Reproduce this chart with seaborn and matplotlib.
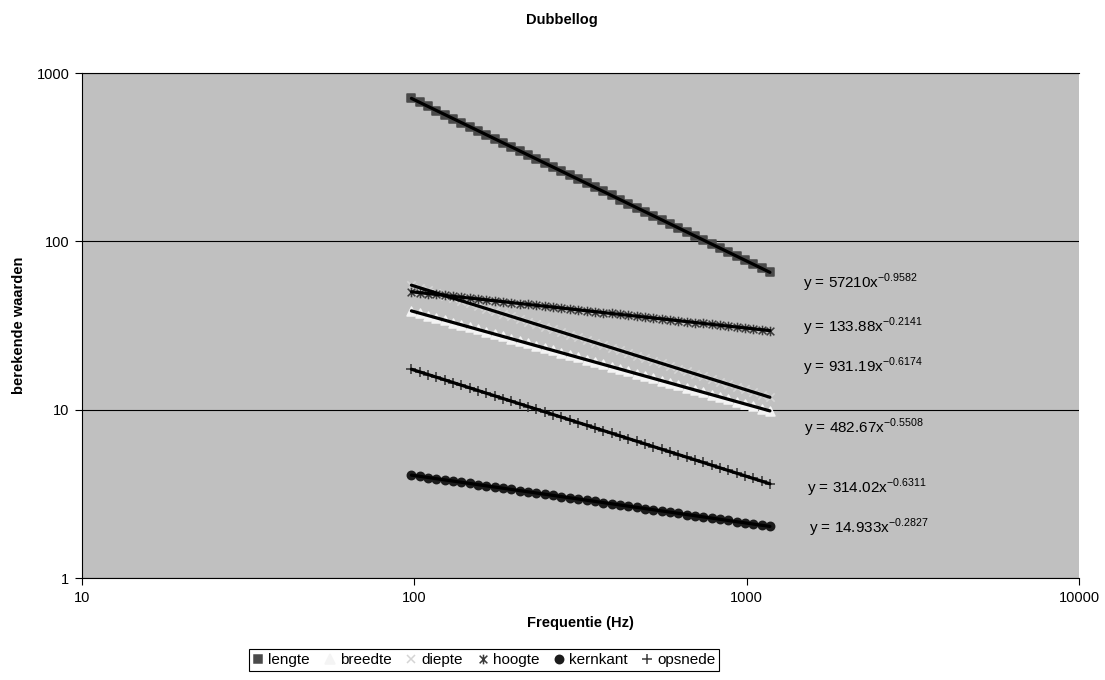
import numpy as np
import matplotlib
matplotlib.use("Agg")
import matplotlib.pyplot as plt
import seaborn as sns
from matplotlib.path import Path
from matplotlib.lines import Line2D

# -------------------------
# Data
# -------------------------
freq = [98.00, 103.83, 110.00, 116.54, 123.47, 130.81, 138.59, 146.83, 155.56, 164.81, 174.61, 185.00,
        196.00, 207.65, 220.00, 233.08, 246.94, 261.63, 277.18, 293.66, 311.13, 329.63, 349.23, 369.99,
        392.00, 415.30, 440.00, 466.16, 493.88, 523.25, 554.37, 587.33, 622.25, 659.26, 698.46, 739.99,
        783.99, 830.61, 880.00, 932.33, 987.77, 1046.50, 1108.73, 1174.66]

lengte = [707.1, 669.0, 633.0, 598.9, 566.7, 536.2, 507.3, 480.0, 454.1, 429.7, 406.5, 384.7,
          363.9, 344.4, 325.8, 308.3, 291.7, 276.0, 261.1, 247.1, 233.7, 221.2, 209.3, 198.0,
          187.3, 177.2, 167.7, 158.7, 150.1, 142.0, 134.4, 127.2, 120.3, 113.8, 107.7, 101.9,
          96.4, 91.2, 86.3, 81.7, 77.3, 73.1, 69.2, 65.5]
breedte = [38.63, 37.42, 36.24, 35.11, 34.01, 32.95, 31.91, 30.91, 29.95, 29.01, 28.10, 27.22,
           26.37, 25.54, 24.74, 23.97, 23.22, 22.49, 21.79, 21.10, 20.44, 19.80, 19.18, 18.58,
           18.00, 17.44, 16.89, 16.36, 15.85, 15.35, 14.87, 14.41, 13.96, 13.52, 13.09, 12.69,
           12.29, 11.90, 11.53, 11.17, 10.82, 10.48, 10.15, 9.83]
diepte = [54.91, 52.99, 51.13, 49.34, 47.61, 45.94, 44.33, 42.78, 41.28, 39.83, 38.44, 37.09,
          35.79, 34.54, 33.33, 32.16, 31.03, 29.95, 28.90, 27.89, 26.91, 25.97, 25.06, 24.18,
          23.33, 22.51, 21.73, 20.96, 20.23, 19.52, 18.84, 18.18, 17.54, 16.93, 16.33, 15.76,
          15.21, 14.68, 14.16, 13.67, 13.19, 12.73, 12.28, 11.85]
hoogte = [50.16, 49.55, 48.94, 48.34, 47.74, 47.16, 46.58, 46.00, 45.44, 44.88, 44.33, 43.78,
          43.25, 42.71, 42.19, 41.67, 41.16, 40.65, 40.15, 39.66, 39.17, 38.69, 38.21, 37.75,
          37.28, 36.82, 36.37, 35.92, 35.48, 35.05, 34.62, 34.19, 33.77, 33.35, 32.94, 32.54,
          32.14, 31.75, 31.35, 30.97, 30.59, 30.21, 29.84, 29.47]
kernkant = [4.085, 4.019, 3.954, 3.890, 3.827, 3.765, 3.704, 3.644, 3.585, 3.527, 3.470, 3.414,
            3.358, 3.304, 3.251, 3.198, 3.146, 3.095, 3.045, 2.996, 2.947, 2.899, 2.852, 2.806,
            2.761, 2.716, 2.672, 2.629, 2.586, 2.544, 2.503, 2.463, 2.423, 2.383, 2.345, 2.307,
            2.270, 2.233, 2.197, 2.161, 2.126, 2.092, 2.058, 2.024]
opsnede = [17.39, 16.77, 16.17, 15.59, 15.03, 14.49, 13.97, 13.47, 12.99, 12.53, 12.08, 11.65,
           11.23, 10.83, 10.44, 10.07, 9.705, 9.357, 9.023, 8.700, 8.388, 8.088, 7.798, 7.519,
           7.250, 6.990, 6.740, 6.499, 6.266, 6.042, 5.826, 5.617, 5.416, 5.222, 5.035, 4.855,
           4.681, 4.514, 4.352, 4.196, 4.046, 3.901, 3.762, 3.627]

series_names = ["lengte", "breedte", "diepte", "hoogte", "kernkant", "opsnede"]
series_values = [lengte, breedte, diepte, hoogte, kernkant, opsnede]

# trendline labels as printed on the chart
trend_coef = ["57210", "482.67", "931.19", "133.88", "14.933", "314.02"]
trend_exp = ["-0.9582", "-0.5508", "-0.6174", "-0.2141", "-0.2827", "-0.6311"]

# -------------------------
# Style
# -------------------------
sns.set_style("ticks")
plt.rcParams["font.family"] = ["Liberation Sans", "DejaVu Sans"]
plt.rcParams["mathtext.fontset"] = "custom"
plt.rcParams["mathtext.rm"] = "Liberation Sans"
plt.rcParams["axes.unicode_minus"] = False
for key in ["text.color", "axes.labelcolor", "xtick.color", "ytick.color"]:
    plt.rcParams[key] = "black"

# Excel style "star" marker: x with a vertical bar
star = Path([(-1, -1), (1, 1), (-1, 1), (1, -1), (0, -1.25), (0, 1.25)],
            [Path.MOVETO, Path.LINETO, Path.MOVETO, Path.LINETO, Path.MOVETO, Path.LINETO])

marker_style = {
    "lengte": ("s", "#4a4a4a", 40, True),
    "breedte": ("^", "#f4f4f4", 42, True),
    "diepte": ("x", "#d4d4d4", 36, False),
    "hoogte": (star, "#3a3a3a", 48, True),
    "kernkant": ("o", "#1c1c1c", 36, True),
    "opsnede": ("+", "#3c3c3c", 55, False),
}

# label positions (axes fraction)
label_pos = {
    "lengte": (0.7232, 0.5842),
    "hoogte": (0.7232, 0.4970),
    "diepte": (0.7232, 0.4178),
    "breedte": (0.7242, 0.2970),
    "opsnede": (0.7272, 0.1782),
    "kernkant": (0.7292, 0.0990),
}

fig = plt.figure(figsize=(11.05, 6.8), dpi=100)
ax = fig.add_axes([0.0742, 0.15, 0.9023, 0.7426])
ax.set_facecolor("#c0c0c0")
ax.set_xscale("log")
ax.set_yscale("log")

# -------------------------
# Markers
# -------------------------
for name, vals in zip(series_names, series_values):
    m, c, s, filled = marker_style[name]
    if filled:
        sns.scatterplot(x=freq, y=vals, marker=m, color=c, edgecolor=c, s=s,
                        linewidth=1.1, ax=ax, zorder=3, legend=False)
    else:
        sns.scatterplot(x=freq, y=vals, marker=m, color=c, s=s,
                        linewidth=1.2, ax=ax, zorder=3, legend=False)

# -------------------------
# Power trendlines (fit in log space)
# -------------------------
lx = np.log10(freq)
for name, vals, coef, ex in zip(series_names, series_values, trend_coef, trend_exp):
    slope, icpt = np.polyfit(lx, np.log10(vals), 1)
    fit = 10 ** (icpt + slope * lx)
    sns.lineplot(x=freq, y=fit, color="black", linewidth=2.3, ax=ax, zorder=4)
    px, py = label_pos[name]
    ax.text(px, py, f"y = {coef}x$^{{\\mathregular{{{ex}}}}}$", transform=ax.transAxes,
            fontsize=11, ha="left", va="center")

# -------------------------
# Axes
# -------------------------
ax.set_xlim(10, 10000)
ax.set_ylim(1, 1000)
ax.set_xticks([10, 100, 1000, 10000])
ax.set_xticklabels(["10", "100", "1000", "10000"])
ax.set_yticks([1, 10, 100, 1000])
ax.set_yticklabels(["1", "10", "100", "1000"])
ax.minorticks_off()
ax.tick_params(direction="out", length=5, width=0.8, color="black", labelcolor="black",
               labelsize=10.5, pad=4)
ax.yaxis.grid(True, color="black", linewidth=0.8)
ax.set_axisbelow(True)
for side in ["left", "bottom", "top"]:
    ax.spines[side].set_color("black")
    ax.spines[side].set_linewidth(0.8)
ax.spines["right"].set_visible(False)

ax.set_xlabel("Frequentie (Hz)", fontsize=10.5, fontweight="bold", labelpad=8)
ax.set_ylabel("berekende waarden", fontsize=10.5, fontweight="bold", labelpad=8)
fig.text(562 / 1105, 1 - 20 / 680, "Dubbellog", fontsize=10.5, fontweight="bold",
         ha="center", va="center")

# -------------------------
# Legend
# -------------------------
handles = []
for name in series_names:
    m, c, s, filled = marker_style[name]
    handles.append(Line2D([], [], linestyle="none", marker=m, markersize=np.sqrt(s),
                          markerfacecolor=c, markeredgecolor=c, markeredgewidth=1.1))
leg = fig.legend(handles, series_names, loc="center", bbox_to_anchor=(484 / 1105, 1 - 660 / 680),
                 ncol=6, frameon=True, fancybox=False, edgecolor="black", framealpha=1,
                 handlelength=0.8, handletextpad=0.25, columnspacing=0.9, borderpad=0.25,
                 fontsize=11)
leg.get_frame().set_linewidth(0.8)

fig.savefig("out.png", dpi=100)
